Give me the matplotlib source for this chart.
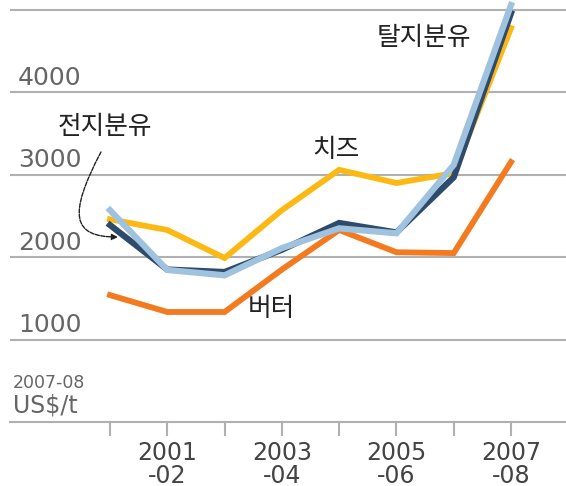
import matplotlib
matplotlib.use("Agg")
import matplotlib.pyplot as plt
from matplotlib.path import Path
from matplotlib.patches import FancyArrowPatch
import matplotlib.transforms as mtransforms

plt.rcParams['font.family'] = ['DejaVu Sans', 'Noto Sans CJK KR']

seasons = ['2000-01', '2001-02', '2002-03', '2003-04', '2004-05', '2005-06', '2006-07', '2007-08']
tick_labels = ['', '2001\n-02', '', '2003\n-04', '', '2005\n-06', '', '2007\n-08']
butter = [1540, 1335, 1335, 1850, 2330, 2060, 2050, 3155]
cheese = [2460, 2330, 1990, 2570, 3060, 2900, 3020, 4780]
wmp = [2390, 1850, 1820, 2090, 2415, 2300, 2970, 4960]
smp = [2570, 1845, 1780, 2110, 2350, 2290, 3120, 5060]
y_grid = [1000, 2000, 3000, 4000, 5000]
y_labels = ['1000', '2000', '3000', '4000', '']

W, H = 566, 486
fig = plt.figure(figsize=(W / 100, H / 100), dpi=100)
ax = fig.add_axes([10 / W, (H - 422) / H, 1 - 10 / W, 422 / H])
x = list(range(len(seasons)))

grid_c = '#b0b0b0'
for v in y_grid:
    ax.axhline(v, color=grid_c, lw=1.5, zorder=1)

ax.plot(x, butter, color='#f47a20', lw=4.2, solid_joinstyle='miter', zorder=3)
ax.plot(x, cheese, color='#fdb913', lw=4.2, solid_joinstyle='miter', zorder=3)
ax.plot(x, wmp, color='#2f4b6c', lw=4.5, solid_joinstyle='miter', zorder=4)
ax.plot(x, smp, color='#9fc2de', lw=4.5, solid_joinstyle='miter', zorder=5)

ax.set_xlim(-100 / 57.3, 7 + 55 / 57.3)
ax.set_ylim(0, 5121)

for s in ['top', 'right', 'left']:
    ax.spines[s].set_visible(False)
ax.spines['bottom'].set_color(grid_c)
ax.spines['bottom'].set_linewidth(1.5)
ax.set_yticks([])
ax.set_xticks(x)
ax.set_xticklabels(tick_labels, fontsize=17, color='#444444', linespacing=0.9)
ax.tick_params(axis='x', length=10, width=1.5, color=grid_c, pad=4)

trans = mtransforms.blended_transform_factory(ax.transAxes, ax.transData)
for v, lab in zip(y_grid, y_labels):
    ax.text(8 / 556, v + 30, lab, transform=trans, fontsize=18, color='#666666',
            ha='left', va='bottom')

ax.text(3 / 556, 370, '2007-08', transform=trans, fontsize=12.5, color='#666666', ha='left', va='bottom')
ax.text(3 / 556, 60, 'US$/t', transform=trans, fontsize=17, color='#666666', ha='left', va='bottom')

kfont = ['Noto Sans CJK KR', 'DejaVu Sans']
ax.text(4.66, 4660, '탈지분유', fontsize=18.5, family=kfont, color='#222222', ha='left', va='center')
ax.text(3.53, 3300, '치즈', fontsize=18.5, family=kfont, color='#222222', ha='left', va='center')
ax.text(2.4, 1370, '버터', fontsize=18.5, family=kfont, color='#222222', ha='left', va='center')
ax.text(-0.92, 3580, '전지분유', fontsize=18.5, family=kfont, color='#222222', ha='left', va='center')

def px(p):
    return ((p[0] - 110) / 57.3, (422 - p[1]) / 82.4 * 1000)

verts = [px((101, 152)), px((68, 215)), px((72, 237)), px((118, 237))]
path = Path(verts, [Path.MOVETO, Path.CURVE4, Path.CURVE4, Path.CURVE4])
arrow = FancyArrowPatch(path=path, arrowstyle='-|>', mutation_scale=9, color='#222222',
                        lw=1, linestyle=(0, (3, 1)), transform=ax.transData, zorder=6)
ax.add_patch(arrow)

fig.savefig('out.png', dpi=100)
